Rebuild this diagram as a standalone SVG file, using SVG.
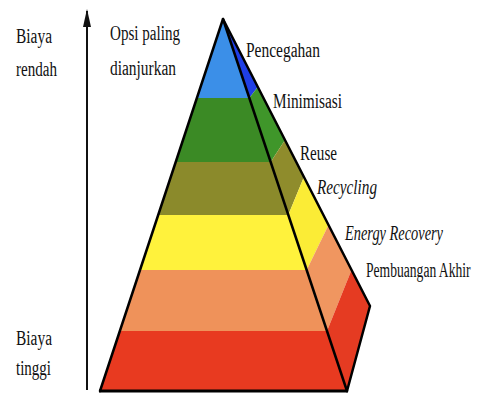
<svg xmlns="http://www.w3.org/2000/svg" width="485" height="396" viewBox="0 0 485 396">
<style>
.t{font-family:"Liberation Serif","Times New Roman",serif;font-size:20px;fill:#111}
.i{font-style:italic}
.edge{fill:none;stroke:#000;stroke-width:2.5;stroke-linejoin:round;stroke-linecap:round}
</style>
<defs>
<marker id="ah" viewBox="0 0 18 8" refX="16" refY="4" markerWidth="18" markerHeight="8" markerUnits="userSpaceOnUse" orient="auto">
<path d="M0,0 L18,4 L0,8 Z" fill="#111"/>
</marker>
</defs>
<rect width="485" height="396" fill="#fff"/>

<g id="axis">
<line x1="87" y1="390" x2="87" y2="11" stroke="#111" stroke-width="2" marker-end="url(#ah)"/>
</g>

<g id="axis-labels">
<text class="t" x="16" y="43" textLength="36" lengthAdjust="spacingAndGlyphs">Biaya</text>
<text class="t" x="16" y="76" textLength="41" lengthAdjust="spacingAndGlyphs">rendah</text>
<text class="t" x="110" y="40" textLength="70" lengthAdjust="spacingAndGlyphs">Opsi paling</text>
<text class="t" x="110" y="75" textLength="66" lengthAdjust="spacingAndGlyphs">dianjurkan</text>
<text class="t" x="16" y="345" textLength="36" lengthAdjust="spacingAndGlyphs">Biaya</text>
<text class="t" x="16" y="375" textLength="35" lengthAdjust="spacingAndGlyphs">tinggi</text>
</g>

<g id="layer-pencegahan">
<polygon points="223,19 249.3,98 196.9,98" fill="#3b8fe8"/>
<polygon points="223,19 249.3,98 257.8,87" fill="#1f3fe6"/>
</g>
<g id="layer-minimisasi">
<polygon points="196.9,98 249.3,98 270.7,162 175.7,162" fill="#3b8a25"/>
<polygon points="249.3,98 270.7,162 285,140 257.8,87" fill="#3f962a"/>
</g>
<g id="layer-reuse">
<polygon points="175.7,162 270.7,162 288.3,215 158.2,215" fill="#8b8a2b"/>
<polygon points="270.7,162 288.3,215 303.9,177 285,140" fill="#8f8c2c"/>
</g>
<g id="layer-recycling">
<polygon points="158.2,215 288.3,215 306.7,270 140,270" fill="#fff23c"/>
<polygon points="288.3,215 306.7,270 328.5,225 303.9,177" fill="#fbec36"/>
</g>
<g id="layer-energy">
<polygon points="140,270 306.7,270 327,331 119.8,331" fill="#ef925a"/>
<polygon points="306.7,270 327,331 351.5,270 328.5,225" fill="#f09660"/>
</g>
<g id="layer-pembuangan">
<polygon points="119.8,331 327,331 347,391 100,391" fill="#e83a20"/>
<polygon points="327,331 347,391 370,306 351.5,270" fill="#e53b22"/>
</g>

<g id="outline">
<polyline class="edge" points="100,391 223,19 347,391"/>
<polyline class="edge" points="223,19 370,306 347,391"/>
<line x1="99" y1="391" x2="348" y2="391" stroke="#000" stroke-width="3"/>
</g>

<g id="labels">
<text class="t" x="246" y="57" textLength="74" lengthAdjust="spacingAndGlyphs">Pencegahan</text>
<text class="t" x="273" y="108" textLength="69" lengthAdjust="spacingAndGlyphs">Minimisasi</text>
<text class="t" x="300" y="160" textLength="37" lengthAdjust="spacingAndGlyphs">Reuse</text>
<text class="t i" x="317" y="194" textLength="60" lengthAdjust="spacingAndGlyphs">Recycling</text>
<text class="t i" x="345" y="240" textLength="98" lengthAdjust="spacingAndGlyphs">Energy Recovery</text>
<text class="t" transform="translate(366,277) scale(0.68,1)" x="0" y="0">Pembuangan Akhir</text>
</g>
</svg>
